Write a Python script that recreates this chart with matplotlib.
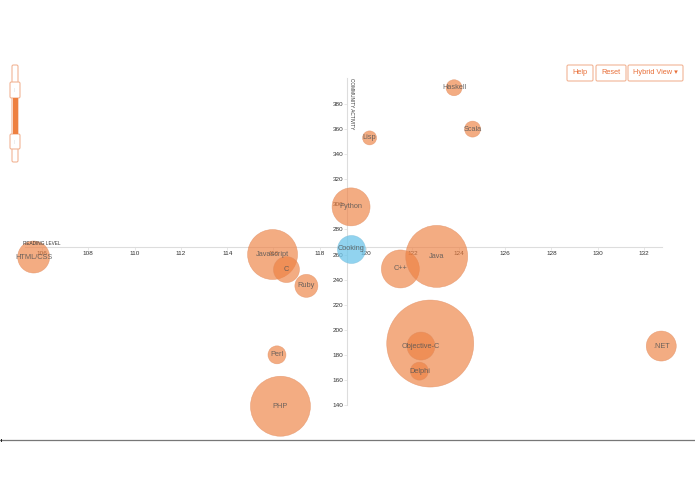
import matplotlib
matplotlib.use('Agg')
import matplotlib.pyplot as plt
from matplotlib.patches import FancyBboxPatch, Rectangle

plt.rcParams['font.family'] = ['Liberation Sans', 'DejaVu Sans']

# bubbles: reading level, community activity, radius in px
languages = ['HTML/CSS', 'PHP', 'Javascript', 'C', 'Ruby', 'Perl', 'Python', 'C++', 'Java',
             'Lisp', 'Haskell', 'Scala', '', 'Objective-C', 'Delphi', '.NET']
reading = [105.64, 116.3, 115.96, 116.56, 117.42, 116.15, 119.35, 121.48, 123.05,
           120.15, 123.8, 124.6, 122.77, 122.37, 122.3, 132.75]
activity = [258, 139, 260, 248, 235, 180, 298, 248.5, 258.5,
            353, 393, 360, 189, 187, 167, 187]
radius = [16, 30, 25, 13, 11.5, 9, 19, 19, 31, 7, 8, 8, 43.5, 14, 9, 15]

# reference topic, drawn in blue
topic = ['Cooking']
topic_reading = [119.35]
topic_activity = [264.5]
topic_radius = [14]

x_ticks = [106, 108, 110, 112, 114, 116, 118, 120, 122, 124, 126, 128, 130, 132]
y_ticks = [140, 160, 180, 200, 220, 240, 260, 280, 300, 320, 340, 360, 380]

ORANGE = '#ee8040'
BLUE = '#6cc5ea'
LINE = '#e8703a'


def area(r):
    return (2 * r * 0.72) ** 2


fig = plt.figure(figsize=(6.95, 4.94), dpi=100)
ax = fig.add_axes([0, 0, 1, 1])
ax.set_xlim(104.186, 134.207)
ax.set_ylim(69.03, 462.96)
ax.patch.set_visible(False)

# axes cross in the middle of the plot
ax.spines['top'].set_visible(False)
ax.spines['right'].set_visible(False)
ax.spines['bottom'].set_position(('data', 265.6))
ax.spines['left'].set_position(('data', 119.17))
ax.spines['bottom'].set_bounds(105.27, 132.78)
ax.spines['left'].set_bounds(140, 400.8)
ax.spines['bottom'].set_color('#dddddd')
ax.spines['left'].set_color('#dddddd')
ax.set_xticks(x_ticks)
ax.set_yticks(y_ticks)
ax.tick_params(axis='both', labelsize=4.6, length=2, width=0.5, color='#dddddd',
               labelcolor='#333333')
ax.tick_params(axis='x', pad=0.6)
ax.tick_params(axis='y', pad=0.6)

ax.scatter(reading, activity, s=[area(r) for r in radius], color=ORANGE, alpha=0.65,
           edgecolor='#e08a5c', linewidth=0.4, zorder=3)
ax.scatter(topic_reading, topic_activity, s=[area(r) for r in topic_radius], color=BLUE,
           alpha=0.75, edgecolor='#7fc0dc', linewidth=0.4, zorder=3)

for name, x, y in zip(languages + topic, reading + topic_reading, activity + topic_activity):
    ax.text(x, y, name, fontsize=5.3, color='#555555', alpha=0.85, ha='center', va='center', zorder=4)

ax.text(105.98, 267, 'READING LEVEL', fontsize=3.4, color='#333333', ha='center', va='bottom')
ax.text(119.25, 400.5, 'COMMUNITY ACTIVITY', fontsize=3.45, color='#333333', rotation=270,
        ha='left', va='top')

# page widgets, in pixel coordinates
ui = fig.add_axes([0, 0, 1, 1])
ui.set_xlim(0, 695)
ui.set_ylim(494, 0)
ui.axis('off')


def box(x0, y0, x1, y1, face='white'):
    ui.add_patch(FancyBboxPatch((x0 + 1.5, y0 + 1.5), x1 - x0 - 3, y1 - y0 - 3,
                                boxstyle='round,pad=1.5', facecolor=face,
                                edgecolor='#f2b595', linewidth=0.8, zorder=5))


# zoom slider
box(12, 65, 18, 162)
ui.add_patch(Rectangle((12.5, 98), 5, 36, facecolor=ORANGE, edgecolor='none', zorder=6))
box(10, 82, 20, 98)
box(10, 134, 20, 149)
ui.text(15, 90, '||', fontsize=2.5, color='#cccccc', ha='center', va='center', zorder=7)
ui.text(15, 141.5, '||', fontsize=2.5, color='#cccccc', ha='center', va='center', zorder=7)

# buttons
box(567, 65, 593, 81)
box(596, 65, 626, 81)
box(628, 65, 683, 81)
ui.text(580, 73, 'Help', fontsize=5.3, color=LINE, ha='center', va='center', zorder=7)
ui.text(611, 73, 'Reset', fontsize=5.3, color=LINE, ha='center', va='center', zorder=7)
ui.text(655.5, 73, 'Hybrid View ▾', fontsize=5.3, color=LINE, ha='center', va='center', zorder=7)

# rule under the chart
ui.plot([0, 695], [440, 440], color='#777777', linewidth=0.9)
ui.plot([0.5, 0.5], [438.5, 441], color='#222222', linewidth=0.7)
ui.plot([694.5, 694.5], [438.5, 441], color='#222222', linewidth=0.7)

fig.savefig('out.png', dpi=100)
